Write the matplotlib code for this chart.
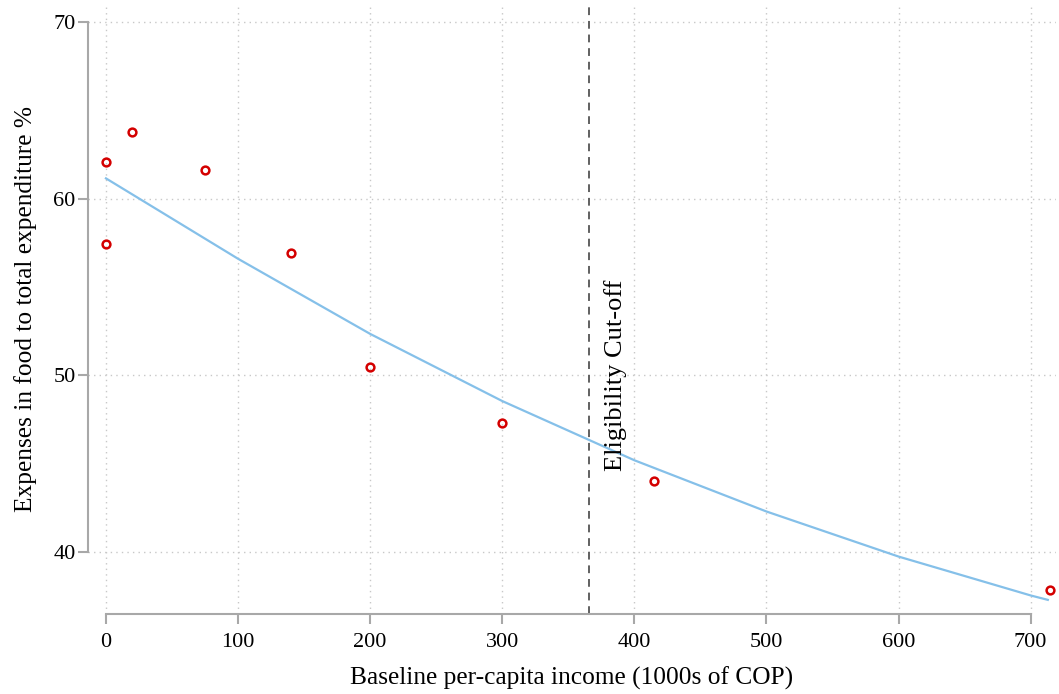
import numpy as np
from matplotlib import pyplot as plt

plt.rcParams['font.family'] = ['Liberation Serif', 'DejaVu Serif']

# binned means
income = [0, 0, 20, 75, 140, 200, 300, 415, 715]
food_share = [62.1, 57.45, 63.75, 61.65, 56.9, 50.5, 47.3, 44.0, 37.85]

# fitted curve
fit_x = [0, 100, 200, 300, 400, 500, 600, 700, 713]
fit_y = [61.15, 56.6, 52.35, 48.55, 45.2, 42.3, 39.75, 37.55, 37.3]

cutoff = 366
xticks = [0, 100, 200, 300, 400, 500, 600, 700]
yticks = [40, 50, 60, 70]

fig = plt.figure(figsize=(10.59, 6.94), dpi=100)
ax = fig.add_axes([88/1059, 80/694, 968/1059, 609/694])

ax.plot(fit_x, fit_y, color='#85c0e9', lw=1.6, zorder=3)
ax.plot(income, food_share, 'o', ms=5.6, mfc='none', mec='#d40000', mew=1.8, zorder=4)
ax.axvline(cutoff, color='#606060', lw=1.4, ls=(0, (4, 3)), zorder=2)
ax.text(cutoff + 11, 44.6, 'Eligibility Cut-off', rotation=90, ha='left', va='bottom', fontsize=19)

ax.set_xlim(-13.6, 719.2)
ax.set_ylim(36.5, 70.96)
ax.set_xticks(xticks)
ax.set_yticks(yticks)
ax.grid(True, color='#c8c8c8', lw=1, ls=(0, (1, 3)))
ax.set_axisbelow(True)

for s in ['top', 'right']:
    ax.spines[s].set_visible(False)
for s in ['left', 'bottom']:
    ax.spines[s].set_color('#a8a8a8')
    ax.spines[s].set_linewidth(1.5)
ax.spines['bottom'].set_bounds(0, 700)
ax.spines['left'].set_bounds(40, 70)
ax.tick_params(colors='#a8a8a8', length=7, width=1.5, labelcolor='black', labelsize=16)
ax.tick_params(axis='x', pad=7)
ax.tick_params(axis='y', pad=2)

ax.set_xlabel('Baseline per-capita income (1000s of COP)', fontsize=18.3, labelpad=10)
ax.set_ylabel('Expenses in food to total expenditure %', fontsize=18.3, labelpad=12)

fig.savefig('out.png')
